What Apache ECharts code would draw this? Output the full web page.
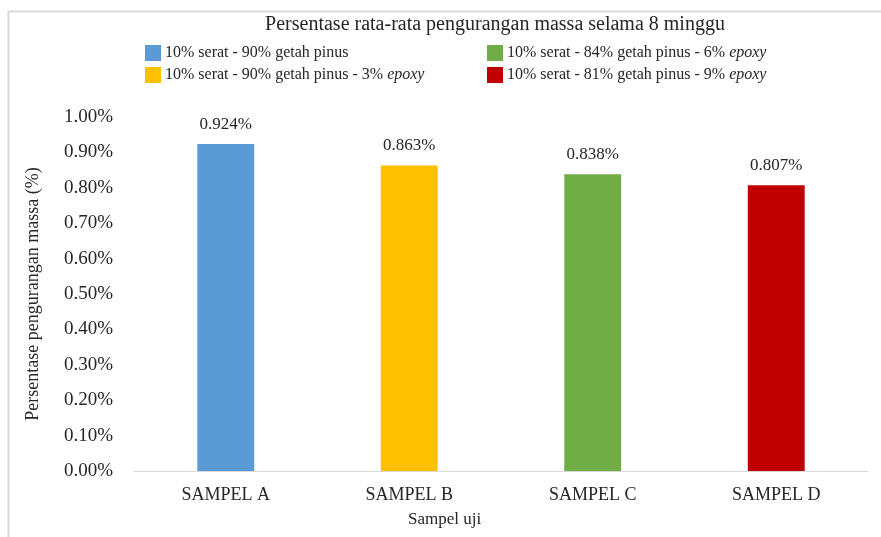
<!DOCTYPE html>
<html>
<head>
<meta charset="utf-8">
<script src="https://cdn.jsdelivr.net/npm/echarts@6/dist/echarts.min.js"></script>
<style>
  html, body { margin: 0; padding: 0; background: #fff; }
  #chart { width: 881px; height: 537px; }
</style>
</head>
<body>
<div id="chart"></div>
<script>
// data
var categories = ['SAMPEL A', 'SAMPEL B', 'SAMPEL C', 'SAMPEL D'];
var seriesNames = [
  '10% serat - 90% getah pinus',
  '10% serat - 90% getah pinus - 3% epoxy',
  '10% serat - 84% getah pinus - 6% epoxy',
  '10% serat - 81% getah pinus - 9% epoxy'
];
var values = [0.924, 0.863, 0.838, 0.807];
var colors = ['#5B9BD5', '#FFC000', '#70AD47', '#C00000'];

var FONT = '"Liberation Serif", "Times New Roman", serif';

var chart = echarts.init(document.getElementById('chart'));

// one series per sample, stacked so each bar sits in the middle of its slot
var series = seriesNames.map(function (name, i) {
  var d = categories.map(function (c, j) { return j === i ? values[i] : '-'; });
  return {
    name: name,
    type: 'bar',
    stack: 'all',
    barWidth: '31%',
    itemStyle: { color: colors[i] },
    label: {
      show: true,
      position: 'top',
      distance: 11,
      fontFamily: FONT,
      fontSize: 17,
      color: '#262626',
      formatter: function (p) { return p.value.toFixed(3) + '%'; }
    },
    data: d
  };
});

function legendText(name) {
  var k = name.indexOf(' epoxy');
  if (k < 0) return name;
  return name.slice(0, k + 1) + '{i|epoxy}';
}

var legendCommon = {
  orient: 'vertical',
  itemWidth: 16,
  itemHeight: 16,
  itemGap: 6,
  icon: 'rect',
  formatter: legendText,
  textStyle: {
    fontFamily: FONT,
    fontSize: 16,
    color: '#262626',
    padding: [0, 0, 0, -1],
    rich: { i: { fontStyle: 'italic', fontFamily: FONT, fontSize: 16, color: '#262626' } }
  }
};

chart.setOption({
  animation: false,
  title: {
    text: 'Persentase rata-rata pengurangan massa selama 8 minggu',
    left: 490,
    textAlign: 'center',
    top: 10,
    textStyle: { fontFamily: FONT, fontSize: 20, fontWeight: 'normal', color: '#262626' }
  },
  legend: [
    Object.assign({}, legendCommon, { left: 140, top: 40, data: [seriesNames[0], seriesNames[1]] }),
    Object.assign({}, legendCommon, { left: 482, top: 40, data: [seriesNames[2], seriesNames[3]] })
  ],
  grid: { left: 134, right: 13, top: 117, bottom: 66 },
  xAxis: {
    type: 'category',
    data: categories,
    axisTick: { show: false },
    axisLine: { lineStyle: { color: '#d9d9d9', width: 1 } },
    axisLabel: { fontFamily: FONT, fontSize: 18, color: '#262626', margin: 15 }
  },
  yAxis: {
    type: 'value',
    min: 0,
    max: 1,
    interval: 0.1,
    splitLine: { show: false },
    axisLine: { show: false },
    axisTick: { show: false },
    axisLabel: {
      fontFamily: FONT, fontSize: 19, color: '#262626', margin: 21,
      formatter: function (v) { return v.toFixed(2) + '%'; }
    },
    name: 'Persentase pengurangan massa (%)',
    nameLocation: 'middle',
    nameGap: 92,
    nameTextStyle: { fontFamily: FONT, fontSize: 18, color: '#262626' }
  },
  graphic: [
    {
      type: 'rect',
      shape: { x: 8.5, y: 11.5, width: 900, height: 600 },
      style: { fill: 'none', stroke: '#d9d9d9', lineWidth: 2 },
      silent: true
    },
    {
      type: 'text',
      left: 408,
      top: 511,
      style: { text: 'Sampel uji', font: '17px ' + FONT, fill: '#262626' }
    }
  ],
  series: series
});
</script>
</body>
</html>
